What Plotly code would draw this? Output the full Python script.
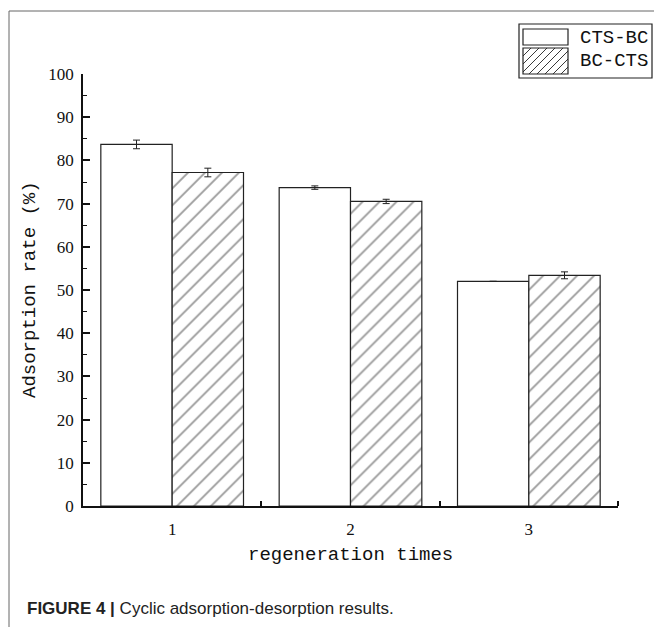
import plotly.graph_objects as go

# ---- data ----
categories = [1, 2, 3]
series_names = ["CTS-BC", "BC-CTS"]
cts_bc = [83.7, 73.7, 52.0]
cts_bc_err = [1.0, 0.4, 0.0]
bc_cts = [77.2, 70.5, 53.4]
bc_cts_err = [1.0, 0.5, 0.8]
y_ticks = [0, 10, 20, 30, 40, 50, 60, 70, 80, 90, 100]

W, H = 654, 627
L, R, T, B = 83, 36, 74, 121
PW, PH = W - L - R, H - T - B


def px(x):
    return (x - L) / PW


def py(y):
    return (H - B - y) / PH


fig = go.Figure()
fig.add_trace(go.Bar(
    x=categories, y=cts_bc, name=series_names[0],
    marker=dict(color="white", line=dict(color="#222", width=1.2)),
    error_y=dict(type="data", array=cts_bc_err, color="#222", thickness=1, width=3.5),
    showlegend=False,
))
fig.add_trace(go.Bar(
    x=categories, y=bc_cts, name=series_names[1],
    marker=dict(color="white", line=dict(color="#222", width=1.2),
                pattern=dict(shape="/", size=12, solidity=0.15, fgcolor="#333", bgcolor="white")),
    error_y=dict(type="data", array=bc_cts_err, color="#222", thickness=1, width=3.5),
    showlegend=False,
))

tickfont = dict(family="Liberation Serif", size=17, color="#111")
fig.update_layout(
    width=W, height=H,
    margin=dict(l=L, r=R, t=T, b=B, pad=0),
    paper_bgcolor="white", plot_bgcolor="white",
    barmode="group", bargap=0.2, bargroupgap=0,
    showlegend=False,
)
fig.update_xaxes(
    range=[0.5, 3.5], tickvals=categories, ticktext=[str(c) for c in categories],
    showline=True, linecolor="#111", linewidth=1.5, showgrid=False, zeroline=False,
    ticks="", tickfont=tickfont, ticklabelstandoff=7,
    minor=dict(tickvals=[1.5, 2.5, 3.5], ticks="inside", ticklen=5, tickcolor="#111", tickwidth=1.5, showgrid=False),
)
fig.update_yaxes(
    range=[0, 100], tickvals=y_ticks, showline=True, linecolor="#111", linewidth=1.5,
    showgrid=False, zeroline=False, ticks="inside", ticklen=7, tickwidth=1.5, tickcolor="#111",
    tickfont=tickfont, ticklabelstandoff=4,
    minor=dict(dtick=5, ticks="inside", ticklen=4, tickcolor="#111", tickwidth=1.2, showgrid=False),
)

shapes = []
frame = dict(color="#666", width=1)
# outer frame lines (top and left)
shapes.append(dict(type="line", xref="paper", yref="paper", x0=px(9), x1=px(654), y0=py(11), y1=py(11), line=frame))
shapes.append(dict(type="line", xref="paper", yref="paper", x0=px(9), x1=px(9), y0=py(11), y1=py(627), line=frame))

# custom legend
leg = dict(color="#222", width=1.2)
shapes.append(dict(type="rect", xref="paper", yref="paper", x0=px(519), x1=px(652), y0=py(24), y1=py(78), line=leg, fillcolor="white", layer="above"))
shapes.append(dict(type="rect", xref="paper", yref="paper", x0=px(523), x1=px(568), y0=py(29), y1=py(45), line=leg, fillcolor="white", layer="above"))
shapes.append(dict(type="rect", xref="paper", yref="paper", x0=px(523), x1=px(568), y0=py(48), y1=py(74), line=leg, fillcolor="white", layer="above"))
sx0, sx1, sy0, sy1 = 523, 568, 48, 74
c = sx0 + sy0 + 8
while c < sx1 + sy1:
    xa = max(sx0, c - sy1)
    xb = min(sx1, c - sy0)
    if xb - xa > 1:
        shapes.append(dict(type="line", xref="paper", yref="paper",
                           x0=px(xa), y0=py(c - xa), x1=px(xb), y1=py(c - xb),
                           line=dict(color="#222", width=0.9), layer="above"))
    c += 8

mono = dict(family="Liberation Mono", size=19, color="#111")
annotations = [
    dict(text=series_names[0], xref="paper", yref="paper", x=px(578), y=py(38), xanchor="left", yanchor="middle", showarrow=False, font=mono),
    dict(text=series_names[1], xref="paper", yref="paper", x=px(578), y=py(61), xanchor="left", yanchor="middle", showarrow=False, font=mono),
    dict(text="regeneration times", xref="paper", yref="paper", x=px(350), y=py(555), xanchor="center", yanchor="middle", showarrow=False, font=mono),
    dict(text="Adsorption rate (%)", xref="paper", yref="paper", x=px(30), y=py(290), xanchor="center", yanchor="middle", textangle=-90, showarrow=False, font=mono),
    dict(text="<b>FIGURE 4 |</b> Cyclic adsorption-desorption results.", xref="paper", yref="paper", x=px(25), y=py(608),
         xanchor="left", yanchor="middle", showarrow=False, font=dict(family="Liberation Sans", size=17, color="#222")),
]
fig.update_layout(shapes=shapes, annotations=annotations)

fig.write_html("out.html", config={"displayModeBar": False},
               post_script="document.body.style.margin='0';document.body.style.overflow='hidden';")
